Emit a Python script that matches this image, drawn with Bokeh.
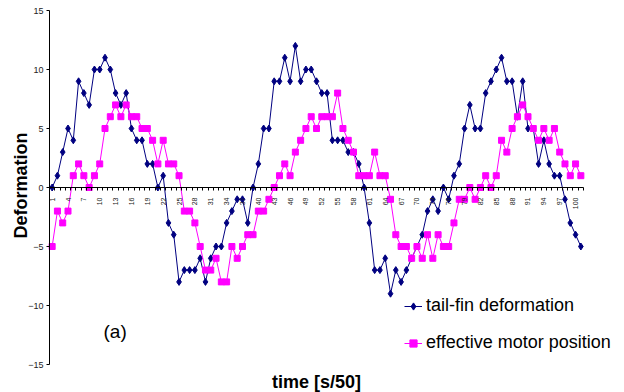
from math import pi
from bokeh.plotting import figure
from bokeh.models import Range1d, FixedTicker, Legend, LegendItem, Label
from bokeh.embed import file_html
from bokeh.resources import INLINE

# ---- data ----
time_steps = list(range(1, 102))
tail_fin = [0, 1, 3, 5, 4, 9, 8, 7, 10, 10,
            11, 10, 8, 7, 8, 5, 4, 4, 2, 2,
            0, 1, -3, -4, -8, -7, -7, -7, -6, -8,
            -6, -5, -5, -3, -2, -1, -1, -3, 0, 2,
            5, 5, 9, 9, 11, 9, 12, 9, 10, 10,
            9, 8, 8, 4, 4, 4, 3, 3, 2, 0,
            -3, -7, -7, -6, -9, -7, -8, -7, -6, -5,
            -4, -2, -1, -2, 0, -1, 1, 2, 5, 7,
            5, 5, 8, 9, 10, 11, 9, 9, 6, 9,
            5, 5, 2, 4, 2, 1, 1, -1, -3, -4, -5]
motor_position = [-5, -2, -3, -2, 1, 2, 1, 0, 1, 2,
                  5, 6, 7, 6, 7, 6, 6, 5, 5, 4,
                  2, 4, 2, 2, 1, -2, -2, -3, -5, -7,
                  -7, -6, -8, -8, -5, -6, -5, -4, -4, -2,
                  -2, -1, 0, 1, 2, 1, 3, 4, 5, 6,
                  5, 6, 6, 6, 8, 5, 4, 3, 1, 1,
                  1, 3, 1, 1, -1, -4, -5, -5, -6, -5,
                  -6, -4, -6, -4, -5, -5, -3, -1, -1, 0,
                  -1, 0, 1, 0, 1, 4, 3, 5, 6, 7,
                  6, 5, 4, 5, 4, 5, 3, 2, 1, 2, 1]
x_tick_labels = list(range(1, 101, 3))
y_ticks = [-15, -10, -5, 0, 5, 10, 15]

FONT = "Liberation Sans"
NAVY = "#000080"
MAGENTA = "#FF00FF"

W, H = 624, 392
# plot-area placement inside the canvas (pixels)
PL, PR, PT, PB = 49, 583, 10, 364
x_lo, x_hi = time_steps[0] - 0.5, time_steps[-1] + 0.5
y_lo, y_hi = y_ticks[0], y_ticks[-1]
sx = (PR - PL) / (x_hi - x_lo)
sy = (PB - PT) / (y_hi - y_lo)

p = figure(width=W, height=H, output_backend="svg", toolbar_location=None,
           x_range=Range1d(x_lo - PL / sx, x_hi + (W - PR) / sx),
           y_range=Range1d(y_lo - (H - PB) / sy, y_hi + PT / sy),
           min_border=0, min_border_left=0, min_border_right=0,
           min_border_top=0, min_border_bottom=0)
p.outline_line_color = None
p.grid.visible = False
p.background_fill_color = "white"
p.border_fill_color = "white"

# x axis crossing at y = 0
xa = p.xaxis[0]
xa.fixed_location = 0
xa.bounds = (x_lo, x_hi)
xa.ticker = FixedTicker(ticks=x_tick_labels,
                        minor_ticks=[t - 0.5 for t in time_steps] + [x_hi])
xa.major_tick_in = 0
xa.major_tick_out = 0
xa.minor_tick_in = 0
xa.minor_tick_out = 3
xa.minor_tick_line_color = "black"
xa.axis_line_color = "black"
xa.major_label_orientation = pi / 2
xa.major_label_text_font = FONT
xa.major_label_text_font_size = "7px"
xa.major_label_text_color = "#222222"
xa.major_label_standoff = 7

ya = p.yaxis[0]
ya.fixed_location = x_lo
ya.bounds = (y_lo, y_hi)
ya.ticker = FixedTicker(ticks=y_ticks, minor_ticks=[])
ya.major_tick_in = 0
ya.major_tick_out = 3
ya.minor_tick_out = 0
ya.axis_line_color = "black"
ya.major_label_text_font = FONT
ya.major_label_text_font_size = "9px"
ya.major_label_text_color = "#222222"
ya.major_label_standoff = 3

l1 = p.line(time_steps, tail_fin, line_color=NAVY, line_width=1)
s1 = p.scatter(time_steps, tail_fin, marker="diamond", size=7,
               fill_color=NAVY, line_color=NAVY)
l2 = p.line(time_steps, motor_position, line_color=MAGENTA, line_width=1)
s2 = p.scatter(time_steps, motor_position, marker="square", size=6,
               fill_color=MAGENTA, line_color=MAGENTA)

legend = Legend(items=[LegendItem(label="tail-fin deformation", renderers=[l1, s1]),
                       LegendItem(label="effective motor position", renderers=[l2, s2])],
                location=(404, 39), padding=0, margin=0, spacing=16,
                border_line_color=None, background_fill_alpha=0,
                label_text_font=FONT, label_text_font_size="18px",
                label_text_color="black", glyph_width=18, glyph_height=20,
                label_standoff=4)
p.add_layout(legend)

p.add_layout(Label(x=103, y=61, x_units="screen", y_units="screen", text="(a)",
                   text_font=FONT, text_font_size="19px", text_color="black",
                   text_baseline="middle"))
p.add_layout(Label(x=20, y=207, x_units="screen", y_units="screen", text="Deformation",
                   angle=pi / 2, text_align="center", text_baseline="middle",
                   text_font=FONT, text_font_size="18px", text_font_style="bold",
                   text_color="black"))
p.add_layout(Label(x=316, y=1, x_units="screen", y_units="screen", text="time [s/50]",
                   text_align="center", text_baseline="bottom",
                   text_font=FONT, text_font_size="18px", text_font_style="bold",
                   text_color="black"))

open("out.html", "w").write(file_html(p, INLINE))
